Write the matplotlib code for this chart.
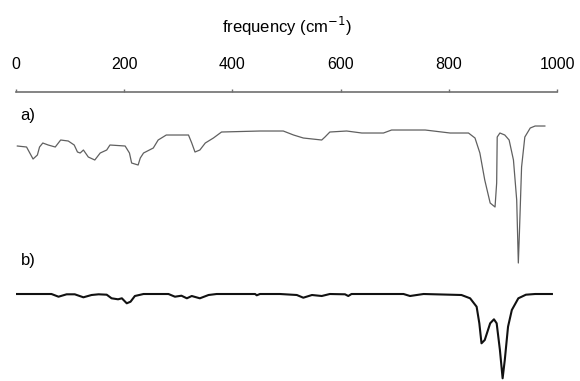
import matplotlib
matplotlib.use("Agg")
import matplotlib.pyplot as plt

plt.rcParams['font.family'] = ['Liberation Sans', 'DejaVu Sans']

# ---- data ----
# spectrum a) (thin grey), frequency in cm-1, signal in arbitrary units (0 = top baseline)
freq_a = [3, 20, 32, 40, 44, 50, 60, 73, 83, 97, 108, 114, 119, 125, 134, 146, 156, 168,
          174, 202, 210, 214, 226, 230, 236, 254, 263, 278, 319, 325, 331, 340, 350, 365,
          380, 451, 494, 513, 531, 565, 571, 580, 611, 639, 679, 694, 756, 802, 836, 848,
          857, 866, 876, 885, 888, 889, 894, 903, 911, 919, 925, 928, 930, 934, 940, 950,
          959, 977]
sig_a = [-20, -21, -33, -29, -21, -17, -19, -21, -14, -15, -19, -26, -27, -24, -31, -34,
         -27, -24, -19, -20, -27, -37, -39, -32, -27, -22, -14, -9, -9, -17, -26, -24, -17,
         -12, -6, -5, -5, -9, -12, -14, -11, -6, -5, -7, -7, -4, -4, -7, -7, -12, -27, -54,
         -77, -81, -57, -11, -7, -9, -14, -34, -74, -137, -107, -41, -11, -2, 0, 0]

# spectrum b) (thick black)
freq_b = [2, 66, 79, 94, 109, 125, 140, 153, 168, 177, 189, 196, 205, 212, 220, 236, 282,
          294, 306, 316, 325, 340, 356, 371, 442, 445, 451, 488, 519, 531, 547, 565, 580,
          608, 614, 620, 716, 728, 753, 823, 839, 851, 856, 860, 866, 876, 883, 888, 894,
          899, 903, 909, 916, 928, 942, 959, 990]
sig_b = [0, 0, -2.7, -0.3, -0.3, -3.3, -1, -0.3, -0.7, -4.3, -5.3, -4.3, -9.3, -7.7, -2,
         0, 0, -2.7, -1.7, -4.3, -2, -4.3, -1, 0, 0, -1.3, 0, 0, -1, -3.7, -1, -2, 0, -0.3,
         -2, 0, 0, -2, 0, -1, -4.3, -12.7, -29.3, -49.3, -46, -29.3, -25.3, -29.3, -56,
         -84.3, -66, -32.7, -16, -4.3, -0.7, 0, 0]

ticks = [0, 200, 400, 600, 800, 1000]

# vertical placement of the two traces
off_a = -126
off_b = -294

fig = plt.figure(figsize=(5.8, 3.81), dpi=100)
ax = fig.add_axes([0.0271, 0.0, 0.9338, 0.7585])

ax.plot(freq_a, [v + off_a for v in sig_a], color="#606060", lw=0.9)
ax.plot(freq_b, [v + off_b for v in sig_b], color="#111111", lw=1.5)

ax.text(9, -115, "a)", fontsize=12, ha="left", va="center")
ax.text(9, -260, "b)", fontsize=12, ha="left", va="center")

ax.set_xlim(0, 1000)
ax.set_ylim(-381, -92)
ax.set_yticks([])
ax.set_xticks(ticks)
ax.xaxis.tick_top()
ax.xaxis.set_label_position("top")
ax.tick_params(axis="x", direction="out", length=2.5, width=1, color="#707070",
               pad=12, labelsize=11.5)
ax.set_xlabel("frequency (cm$^{-1}$)", fontsize=12, labelpad=17)

for s in ["left", "right", "bottom"]:
    ax.spines[s].set_visible(False)
ax.spines["top"].set_color("#707070")
ax.spines["top"].set_linewidth(1.2)

fig.savefig("out.png", dpi=100)
